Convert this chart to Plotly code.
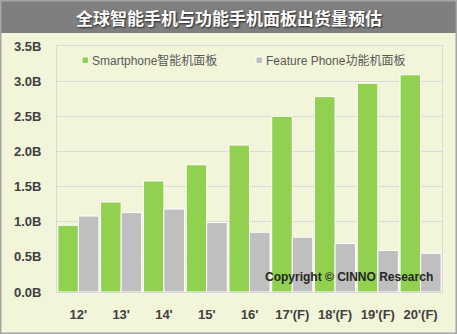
import plotly.graph_objects as go

categories = ["12'", "13'", "14'", "15'", "16'", "17'(F)", "18'(F)", "19'(F)", "20'(F)"]
smartphone = [0.95, 1.28, 1.58, 1.81, 2.09, 2.50, 2.78, 2.97, 3.09]
feature = [1.08, 1.13, 1.18, 0.99, 0.85, 0.78, 0.69, 0.59, 0.55]
y_ticks = [0.0, 0.5, 1.0, 1.5, 2.0, 2.5, 3.0, 3.5]
y_labels = ["0.0B", "0.5B", "1.0B", "1.5B", "2.0B", "2.5B", "3.0B", "3.5B"]
title_text = "全球智能手机与功能手机面板出货量预估"
legend_names = ["Smartphone智能机面板", "Feature Phone功能机面板"]
copyright_text = "Copyright © CINNO Research"

GREEN = "#92D050"
GRAY = "#BFBFBF"
CREAM = "#F2F5D9"
FONT = "Liberation Sans, Noto Sans CJK SC, sans-serif"

W, H = 457, 334
L, R, T, B = 57, 15, 46, 42
PW, PH = W - L - R, H - T - B


def px(x):
    return (x - L) / PW


def py(y):
    return (H - B - y) / PH


fig = go.Figure()
fig.add_trace(go.Bar(x=categories, y=smartphone, name=legend_names[0],
                     marker=dict(color=GREEN, line=dict(color="white", width=1)),
                     showlegend=False))
fig.add_trace(go.Bar(x=categories, y=feature, name=legend_names[1],
                     marker=dict(color=GRAY, line=dict(color="white", width=1)),
                     showlegend=False))

shapes = [
    # title bar
    dict(type="rect", xref="paper", yref="paper", x0=px(0), x1=px(W), y0=py(33), y1=py(0),
         fillcolor="#7F7F7F", line=dict(width=0), layer="below"),
    # outer border
    dict(type="rect", xref="paper", yref="paper", x0=px(0.75), x1=px(W - 0.75), y0=py(H - 0.75), y1=py(0.75),
         fillcolor="rgba(0,0,0,0)", line=dict(color="#A6A6A6", width=1.5), layer="above"),
    # legend squares
    dict(type="rect", xref="paper", yref="paper", x0=px(82), x1=px(88.5), y0=py(63.5), y1=py(57),
         fillcolor=GREEN, line=dict(color="white", width=0.8)),
    dict(type="rect", xref="paper", yref="paper", x0=px(256), x1=px(262.5), y0=py(63.5), y1=py(57),
         fillcolor=GRAY, line=dict(color="white", width=0.8)),
]

annotations = [
    dict(text=title_text, xref="paper", yref="paper", x=px(228.5), y=py(17.5),
         xanchor="center", yanchor="middle", showarrow=False,
         font=dict(family="Noto Sans CJK SC, sans-serif", size=17, color="white", weight="bold",
                   shadow="1px 1px 2px #222")),
    dict(text=legend_names[0], xref="paper", yref="paper", x=px(90), y=py(60.5),
         xanchor="left", yanchor="middle", showarrow=False,
         font=dict(family=FONT, size=12, color="#595959")),
    dict(text=legend_names[1], xref="paper", yref="paper", x=px(264), y=py(60.5),
         xanchor="left", yanchor="middle", showarrow=False,
         font=dict(family=FONT, size=12, color="#595959")),
    dict(text=copyright_text, xref="paper", yref="paper", x=px(435), y=py(277),
         xanchor="right", yanchor="middle", showarrow=False,
         font=dict(family=FONT, size=12, color="#262626", weight="bold")),
]

fig.update_layout(
    width=W, height=H,
    margin=dict(l=L, r=R, t=T, b=B, pad=0),
    paper_bgcolor=CREAM, plot_bgcolor=CREAM,
    barmode="group", bargap=0.04, bargroupgap=0,
    shapes=shapes, annotations=annotations,
    showlegend=False,
    font=dict(family=FONT, color="#404040"),
)
fig.update_xaxes(
    showgrid=False, showline=True, linecolor="#D9D9D9", linewidth=1, mirror=True,
    ticks="", ticklabelstandoff=10,
    tickfont=dict(family=FONT, size=13, color="#404040", weight="bold"),
)
fig.update_yaxes(
    range=[0, 3.5], tickvals=y_ticks, ticktext=y_labels,
    showgrid=True, gridcolor="#D9D9D9", gridwidth=1,
    showline=True, linecolor="#D9D9D9", linewidth=1, mirror=True,
    zeroline=False, ticks="", ticklabelstandoff=12,
    tickfont=dict(family=FONT, size=13, color="#404040", weight="bold"),
)

fig.write_html("out.html")
